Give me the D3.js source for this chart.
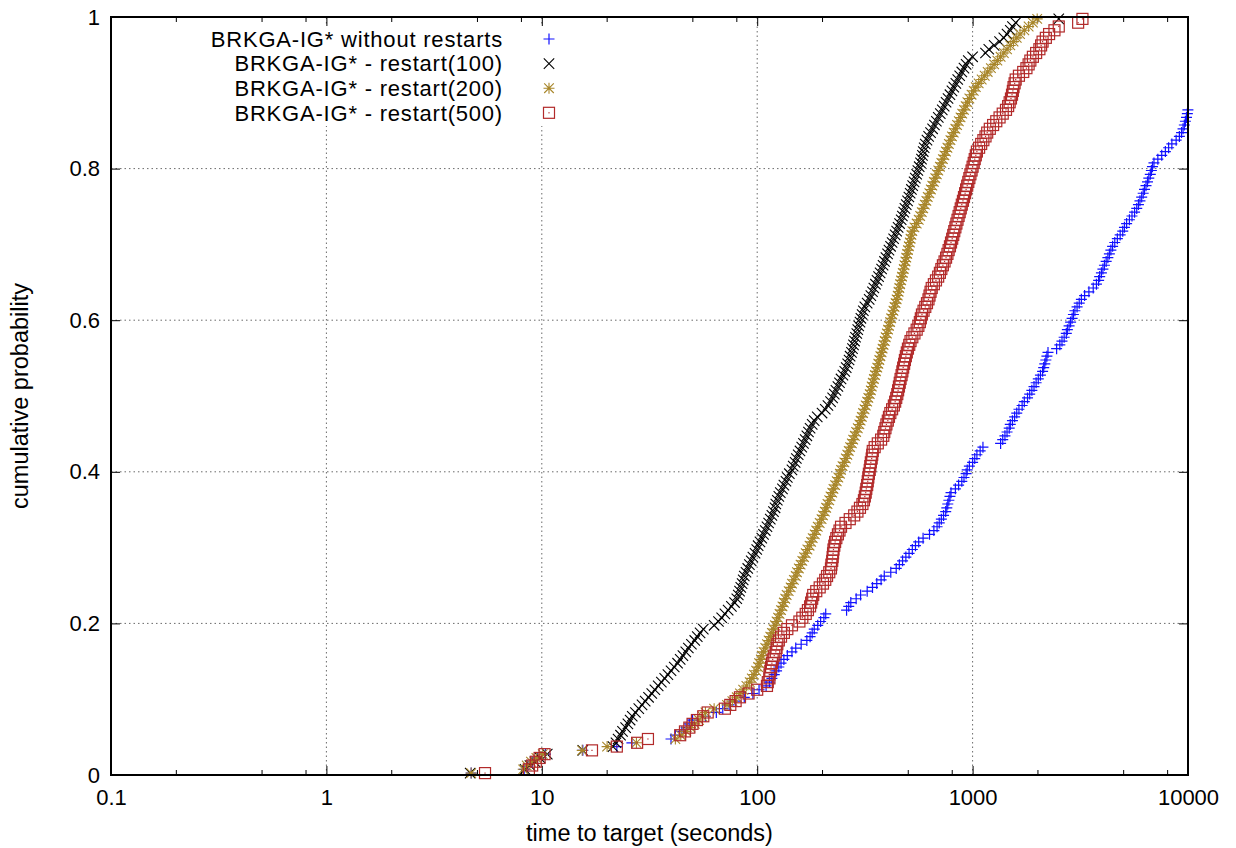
<!DOCTYPE html>
<html>
<head>
<meta charset="utf-8">
<script src="https://cdn.jsdelivr.net/npm/d3@7"></script>
<style>
  html, body { margin: 0; padding: 0; background: #fff; }
  svg { display: block; }
  text { font-family: "Liberation Sans", Arial, Helvetica, sans-serif; fill: #000; }
</style>
</head>
<body>
<svg id="chart" width="1236" height="848"></svg>
<script>
// ---------------- data ----------------
const runsPerVariant = 200; // cumulative probability of i-th sorted run = (i - 0.5) / runsPerVariant

const seriesNames = [
  "BRKGA-IG* without restarts",
  "BRKGA-IG* - restart(100)",
  "BRKGA-IG* - restart(200)",
  "BRKGA-IG* - restart(500)"
];

// sorted times to target (seconds); runs beyond 10000 s fall outside the plotted range
const timesNoRestart = [4.70, 8.28, 8.61, 9.02, 9.55, 10.4, 15.5, 22.3, 26.2, 39.8,
41.7, 44.7, 46.8, 48.4, 50.1, 57.5, 64.6, 69.2, 74.1, 79.4,
87.1, 95.5, 102, 110, 114, 117, 120, 123, 126, 129,
133, 138, 145, 151, 160, 170, 176, 180, 184, 191,
197, 204, 208, 260, 266, 272, 288, 302, 324, 343,
359, 376, 389, 417, 442, 457, 473, 490, 507, 525,
543, 562, 589, 631, 661, 684, 700, 716, 733, 750,
759, 767, 776, 785, 794, 832, 861, 891, 912, 933,
944, 966, 1000, 1023, 1047, 1084, 1117, 1349, 1380, 1413,
1445, 1479, 1496, 1531, 1567, 1603, 1641, 1698, 1738, 1799,
1841, 1884, 1928, 1972, 2018, 2065, 2113, 2138, 2163, 2188,
2213, 2239, 2455, 2541, 2600, 2661, 2723, 2754, 2805, 2851,
2897, 2938, 2985, 3055, 3126, 3199, 3311, 3467, 3631, 3758,
3846, 3890, 3963, 4027, 4093, 4169, 4246, 4315, 4385, 4467,
4571, 4699, 4842, 4977, 5070, 5188, 5346, 5495, 5649, 5781,
5888, 5984, 6095, 6194, 6281, 6383, 6486, 6577, 6683, 6761,
6839, 6950, 7244, 7551, 7852, 8128, 8414, 8810, 9120, 9333,
9484, 9616, 9727, 9840, 9931, 9990];

const timesRestart100 = [4.65, 8.36, 8.81, 9.29, 9.82, 10.6, 15.5, 21.4, 22.1, 22.6,
23.2, 23.7, 24.5, 25.1, 25.7, 26.3, 27.2, 28.2, 29.2, 30.2,
31.3, 32.4, 33.5, 34.7, 35.9, 37.2, 38.5, 39.8, 41.2, 42.7,
43.9, 45.2, 46.6, 47.9, 49.5, 51.3, 52.7, 54.3, 56.2, 63.1,
66.1, 68.4, 70.8, 73.3, 75.9, 78.5, 80.4, 81.7, 82.8, 83.9,
85.1, 86.1, 87.1, 88.7, 90.4, 92.0, 93.8, 95.5, 97.7, 99.5,
101, 103, 105, 107, 109, 111, 113, 115, 117, 119,
121, 122, 124, 126, 128, 131, 133, 136, 138, 141,
145, 147, 150, 152, 155, 158, 161, 164, 167, 170,
173, 176, 180, 184, 190, 200, 207, 213, 219, 224,
228, 232, 237, 241, 245, 250, 255, 259, 263, 267,
270, 274, 277, 280, 283, 286, 290, 293, 296, 300,
303, 307, 311, 316, 324, 331, 337, 343, 348, 354,
360, 366, 372, 378, 384, 390, 396, 403, 409, 416,
423, 430, 437, 444, 451, 458, 466, 472, 479, 485,
492, 499, 506, 513, 520, 527, 535, 542, 550, 557,
565, 573, 579, 585, 590, 596, 603, 614, 625, 638,
652, 665, 679, 693, 708, 723, 738, 753, 769, 785,
802, 818, 836, 853, 871, 891, 912, 933, 955, 1000,
1148, 1189, 1259, 1334, 1396, 1445, 1496, 1531, 1585, 2512];

const timesRestart200 = [4.70, 8.20, 8.51, 8.91, 9.44, 10.1, 15.4, 20.1, 27.5, 41.7,
44.2, 46.8, 49.0, 51.3, 53.7, 55.6, 57.5, 63.1, 72.4, 76.7,
80.4, 83.2, 86.1, 89.1, 92.3, 94.4, 96.6, 98.9, 101, 102,
104, 105, 107, 109, 111, 113, 115, 117, 119, 121,
123, 125, 127, 129, 131, 133, 135, 137, 140, 143,
145, 148, 151, 153, 156, 159, 162, 165, 168, 171,
175, 178, 181, 185, 188, 191, 195, 199, 202, 206,
209, 212, 216, 219, 223, 226, 230, 234, 238, 242,
245, 249, 254, 258, 262, 266, 270, 275, 279, 284,
288, 293, 298, 302, 306, 310, 315, 319, 324, 328,
333, 337, 340, 344, 348, 352, 356, 361, 365, 369,
373, 378, 382, 386, 391, 395, 400, 405, 409, 414,
419, 424, 429, 434, 439, 444, 449, 453, 457, 461,
466, 470, 474, 479, 483, 488, 492, 497, 501, 506,
511, 515, 520, 525, 537, 550, 562, 571, 581, 590,
600, 610, 619, 630, 640, 650, 661, 671, 682, 693,
705, 716, 728, 740, 752, 764, 776, 789, 802, 817,
832, 847, 863, 879, 895, 912, 929, 946, 966, 989,
1012, 1035, 1067, 1102, 1138, 1175, 1216, 1259, 1303, 1349,
1396, 1445, 1496, 1549, 1603, 1660, 1738, 1820, 1905, 1995];

const timesRestart500 = [5.45, 8.71, 9.02, 9.38, 9.77, 10.3, 17.1, 22.3, 27.7, 31.1,
43.9, 46.2, 48.4, 50.1, 52.5, 56.2, 58.9, 70.8, 75.0, 79.4,
83.2, 91.2, 100, 111, 112, 114, 114, 115, 116, 117,
118, 120, 122, 123, 124, 126, 129, 133, 138, 145,
157, 162, 168, 172, 176, 178, 180, 182, 188, 195,
202, 207, 211, 216, 220, 221, 223, 224, 225, 226,
228, 230, 233, 237, 241, 245, 257, 269, 282, 292,
300, 308, 313, 316, 319, 321, 324, 326, 328, 330,
333, 335, 337, 340, 342, 344, 351, 363, 376, 385,
389, 394, 398, 404, 409, 415, 423, 431, 437, 442,
447, 451, 455, 459, 463, 468, 472, 476, 481, 485,
490, 495, 501, 508, 515, 525, 537, 550, 560, 569,
575, 582, 592, 603, 614, 624, 631, 638, 646, 661,
676, 692, 705, 716, 728, 741, 753, 764, 774, 785,
794, 804, 813, 822, 832, 841, 851, 861, 871, 881,
891, 902, 912, 923, 933, 944, 955, 966, 977, 989,
1000, 1012, 1023, 1035, 1047, 1072, 1096, 1122, 1148, 1169,
1202, 1245, 1288, 1334, 1380, 1429, 1462, 1486, 1507, 1524,
1538, 1549, 1567, 1585, 1641, 1718, 1778, 1820, 1854, 1905,
1972, 2042, 2080, 2113, 2188, 2265, 2399, 2512, 3090, 3236];

const xTickValues = [0.1, 1, 10, 100, 1000, 10000];
const xTickLabels = ["0.1", "1", "10", "100", "1000", "10000"];
const xMinorMultipliers = [2, 5, 8];
const yTickValues = [0, 0.2, 0.4, 0.6, 0.8, 1];
const yTickLabels = ["0", "0.2", "0.4", "0.6", "0.8", "1"];
const xTitle = "time to target (seconds)";
const yTitle = "cumulative probability";

// ---------------- style ----------------
const seriesColors = ["#1212ff", "#000000", "#a8862a", "#b22a2a"];
const seriesShapes = ["plus", "cross", "star", "box"];
const seriesData = [timesNoRestart, timesRestart100, timesRestart200, timesRestart500];

const W = 1236, H = 848;
const margin = { left: 111, right: 48, top: 17, bottom: 73 };
const x0 = margin.left, x1 = W - margin.right, y0 = H - margin.bottom, y1 = margin.top;

const svg = d3.select("#chart");
const x = d3.scaleLog().domain([0.1, 10000]).range([x0, x1]);
const y = d3.scaleLinear().domain([0, 1]).range([y0, y1]);

const tickFontSize = 22;
const textFontSize = 23.5;
const legendFontSize = 22;

// grid
const gridG = svg.append("g");
gridG.selectAll("line.gx").data(xTickValues.slice(1, -1)).join("line")
  .attr("x1", d => x(d)).attr("x2", d => x(d)).attr("y1", y0).attr("y2", y1)
  .attr("stroke", "#6a6a6a").attr("stroke-width", 1).attr("stroke-dasharray", "1.5,3");
gridG.selectAll("line.gy").data(yTickValues.slice(1, -1)).join("line")
  .attr("y1", d => y(d)).attr("y2", d => y(d)).attr("x1", x0).attr("x2", x1)
  .attr("stroke", "#6a6a6a").attr("stroke-width", 1).attr("stroke-dasharray", "1.5,3");

// minor tick values
const xMinor = [];
xTickValues.slice(0, -1).forEach(d => xMinorMultipliers.forEach(m => xMinor.push(d * m)));

// axes
function styleAxis(g) {
  g.select(".domain").remove();
  g.selectAll(".tick line").attr("stroke", "#000").attr("stroke-width", 1);
  g.selectAll(".tick text").attr("font-size", tickFontSize).attr("font-family", '"Liberation Sans", Arial, sans-serif').attr("fill", "#000");
}
svg.append("g").attr("transform", `translate(0,${y0})`)
  .call(d3.axisBottom(x).tickValues(xTickValues).tickSize(-9).tickPadding(14)
    .tickFormat((d, i) => xTickLabels[i]))
  .call(styleAxis);
svg.append("g").attr("transform", `translate(0,${y0})`)
  .call(d3.axisBottom(x).tickValues(xMinor).tickSize(-5).tickFormat(""))
  .call(styleAxis);
svg.append("g").attr("transform", `translate(0,${y1})`)
  .call(d3.axisTop(x).tickValues(xTickValues).tickSize(-9).tickFormat(""))
  .call(styleAxis);
svg.append("g").attr("transform", `translate(0,${y1})`)
  .call(d3.axisTop(x).tickValues(xMinor).tickSize(-5).tickFormat(""))
  .call(styleAxis);
svg.append("g").attr("transform", `translate(${x0},0)`)
  .call(d3.axisLeft(y).tickValues(yTickValues).tickSize(-9).tickPadding(11)
    .tickFormat((d, i) => yTickLabels[i]))
  .call(styleAxis);
svg.append("g").attr("transform", `translate(${x1},0)`)
  .call(d3.axisRight(y).tickValues(yTickValues).tickSize(-9).tickFormat(""))
  .call(styleAxis);

// axis titles
svg.append("text").attr("x", (x0 + x1) / 2).attr("y", 841)
  .attr("text-anchor", "middle").attr("font-size", textFontSize).text(xTitle);
svg.append("text").attr("transform", `translate(28,${(y0 + y1) / 2}) rotate(-90)`)
  .attr("text-anchor", "middle").attr("font-size", textFontSize).text(yTitle);

// markers
function drawMarker(g, shape, color, cx, cy) {
  const s = 5.5;
  if (shape === "plus") {
    g.append("path").attr("d", `M${cx - s},${cy}H${cx + s}M${cx},${cy - s}V${cy + s}`)
      .attr("stroke", color).attr("stroke-width", 1.2).attr("fill", "none");
  } else if (shape === "cross") {
    const c = 5.2;
    g.append("path").attr("d", `M${cx - c},${cy - c}L${cx + c},${cy + c}M${cx - c},${cy + c}L${cx + c},${cy - c}`)
      .attr("stroke", color).attr("stroke-width", 1.1).attr("fill", "none");
  } else if (shape === "star") {
    const c = 4.8;
    g.append("path").attr("d", `M${cx - s},${cy}H${cx + s}M${cx},${cy - s}V${cy + s}M${cx - c},${cy - c}L${cx + c},${cy + c}M${cx - c},${cy + c}L${cx + c},${cy - c}`)
      .attr("stroke", color).attr("stroke-width", 1.1).attr("fill", "none");
  } else {
    const b = 5.5;
    g.append("rect").attr("x", cx - b).attr("y", cy - b).attr("width", 2 * b).attr("height", 2 * b)
      .attr("stroke", color).attr("stroke-width", 1.2).attr("fill", "none");
    g.append("rect").attr("x", cx - 0.6).attr("y", cy - 0.6).attr("width", 1.2).attr("height", 1.2)
      .attr("fill", color);
  }
}

const pointsG = svg.append("g");
seriesData.forEach((times, si) => {
  const g = pointsG.append("g").attr("class", "series-" + si);
  times.forEach((t, i) => {
    const p = (i + 0.5) / runsPerVariant;
    if (t < 0.1 || t > 10000) return;
    drawMarker(g, seriesShapes[si], seriesColors[si], x(t), y(p));
  });
});

// legend (opaque box like gnuplot key)
const legendG = svg.append("g");
legendG.append("rect").attr("x", 196).attr("y", 26).attr("width", 370).attr("height", 100).attr("fill", "#fff");
const legendTextRight = 503, legendMarkerX = 549, legendTop = 39, legendStep = 24.6;
seriesNames.forEach((name, i) => {
  const ly = legendTop + i * legendStep;
  legendG.append("text").attr("x", legendTextRight).attr("y", ly).attr("dy", "0.35em")
    .attr("text-anchor", "end").attr("font-size", legendFontSize)
    .attr("letter-spacing", "0.8px").text(name);
  drawMarker(legendG, seriesShapes[i], seriesColors[i], legendMarkerX, ly);
});

// frame
svg.append("rect").attr("x", x0).attr("y", y1).attr("width", x1 - x0).attr("height", y0 - y1)
  .attr("fill", "none").attr("stroke", "#000").attr("stroke-width", 2);
</script>
</body>
</html>
